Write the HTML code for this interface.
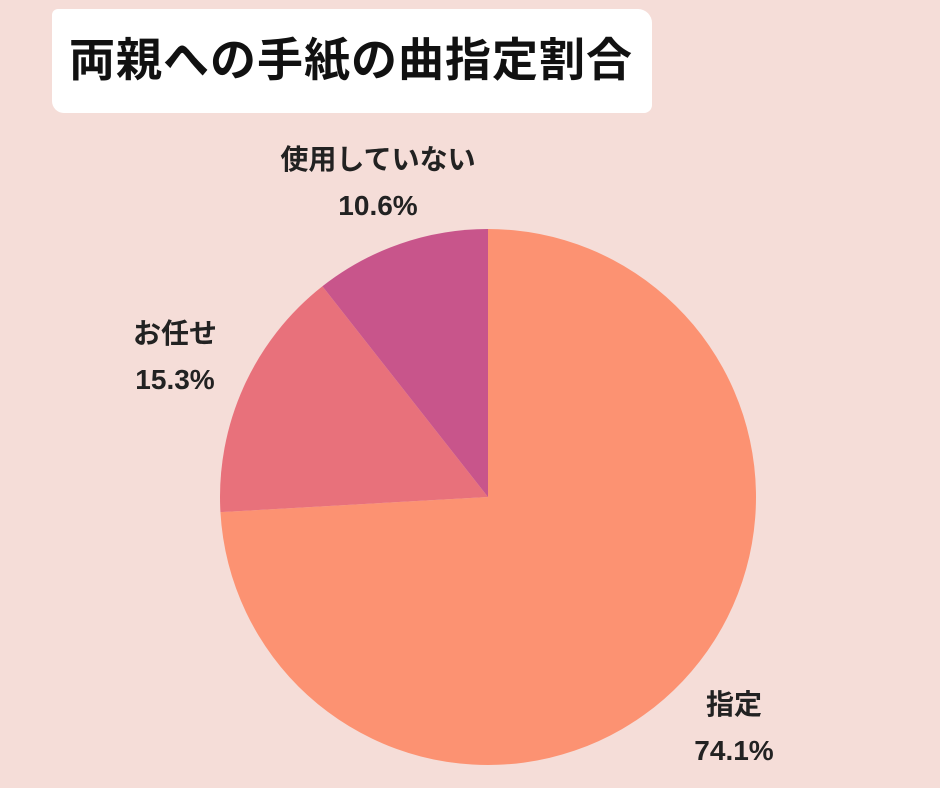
<!DOCTYPE html>
<html><head><meta charset="utf-8">
<style>
body{margin:0;background:#F5DDD8;}
#wrap{position:relative;width:940px;height:788px;overflow:hidden;background:#F5DDD8;font-family:"Liberation Sans","Noto Sans CJK JP",sans-serif;}
.banner{position:absolute;left:52px;top:9px;width:600px;height:104px;background:#fff;border-radius:6px 14px 8px 12px;}
.title{position:absolute;left:56px;top:30px;width:590px;text-align:center;font-size:46px;font-weight:bold;color:#111;letter-spacing:1px;line-height:60px;}
.lbl{position:absolute;font-size:28px;font-weight:bold;color:#222;text-align:center;line-height:46px;}
</style></head><body>
<div id="wrap">
<div class="banner"></div>
<div class="title">両親への手紙の曲指定割合</div>
<svg id="pie" width="940" height="788" style="position:absolute;left:0;top:0"></svg>
<div class="lbl" style="left:238px;top:137px;width:280px">使用していない<br>10.6%</div>
<div class="lbl" style="left:110px;top:311px;width:130px">お任せ<br>15.3%</div>
<div class="lbl" style="left:674px;top:682px;width:120px">指定<br>74.1%</div>
</div>
<script>
const categories=["指定","お任せ","使用していない"];
const values=[74.1,15.3,10.6];
const colors=["#FC9272","#E8717B","#C8558B"];
const cx=488,cy=497,r=268;
const svg=document.getElementById('pie');
const total=values.reduce((a,b)=>a+b,0);
let a0=0;
values.forEach((v,i)=>{
  const a1=a0+v/total*2*Math.PI;
  const x0=cx+r*Math.sin(a0),y0=cy-r*Math.cos(a0);
  const x1=cx+r*Math.sin(a1),y1=cy-r*Math.cos(a1);
  const large=(a1-a0)>Math.PI?1:0;
  const p=document.createElementNS('http://www.w3.org/2000/svg','path');
  p.setAttribute('d',`M${cx},${cy} L${x0},${y0} A${r},${r} 0 ${large} 1 ${x1},${y1} Z`);
  p.setAttribute('fill',colors[i]);
  
  
  svg.appendChild(p);
  a0=a1;
});
</script>
</body></html>
